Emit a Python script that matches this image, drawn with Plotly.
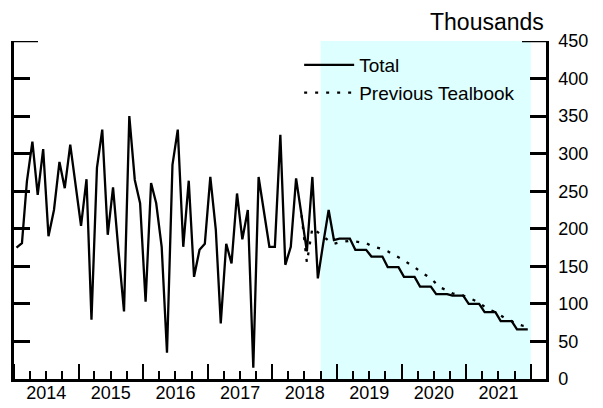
import pandas as pd
import plotly.graph_objects as go

# Monthly dates, Jan 2014 .. Dec 2021 (plotted mid-month)
months = pd.date_range("2014-01-01", "2021-12-01", freq="MS") + pd.Timedelta(days=14)

total = [
    175, 181, 263, 316, 245, 306, 190, 225, 289, 254, 312, 258,   # 2014
    204, 266, 79, 281, 332, 192, 255, 170, 90, 350, 265, 234,     # 2015
    103, 261, 234, 176, 35, 285, 332, 176, 264, 136, 172, 180,    # 2016
    269, 199, 74, 180, 154, 247, 186, 225, 15, 269, 221, 176,     # 2017
    176, 325, 152, 176, 267, 218, 170, 269, 134, 180, 225, 185,   # 2018
    187, 187, 187, 172, 172, 172, 163, 163, 163, 149, 149, 149,   # 2019
    136, 136, 136, 123, 123, 123, 113, 113, 113, 111, 111, 111,   # 2020
    100, 100, 100, 89, 89, 89, 77, 77, 77, 66, 66, 66,            # 2021
]

prev_start = 53  # Jun 2018
previous = [
    218, 155, 201, 196, 190, 184, 180,                            # Jun-Dec 2018
    182, 183, 184, 183, 182, 181, 177, 175, 173, 170, 166, 163,   # 2019
    158, 153, 149, 143, 138, 134, 127, 121, 118, 114, 112, 111,   # 2020
    108, 105, 102, 96, 92, 89, 84, 80, 77, 73, 71, 70,            # 2021
]

forecast_start = "2018-10-01"
forecast_end = "2022-01-01"
x_range = ["2014-01-01", "2022-03-28"]
y_ticks = [0, 50, 100, 150, 200, 250, 300, 350, 400, 450]

FONT = "Liberation Sans, Arial, Helvetica, sans-serif"

fig = go.Figure()
fig.add_trace(go.Scatter(
    x=months, y=total, mode="lines", name="Total",
    line=dict(color="black", width=2.3),
))
fig.add_trace(go.Scatter(
    x=months[prev_start:], y=previous, mode="lines", name="Previous Tealbook",
    line=dict(color="black", width=2.3, dash="3px,8px"),
))

fig.add_shape(type="rect", xref="x", yref="y",
              x0=forecast_start, x1=forecast_end, y0=y_ticks[0], y1=y_ticks[-1],
              fillcolor="#DDFFFF", line=dict(width=0), layer="below")
# longer ticks at the top value on both sides
fig.add_shape(type="line", xref="paper", yref="y", xsizemode="pixel", xanchor=0,
              x0=0, x1=24, y0=y_ticks[-1], y1=y_ticks[-1], line=dict(color="black", width=2.5))
fig.add_shape(type="line", xref="paper", yref="y", xsizemode="pixel", xanchor=1,
              x0=-24, x1=0, y0=y_ticks[-1], y1=y_ticks[-1], line=dict(color="black", width=2.5))

fig.add_annotation(text="Thousands", xref="paper", yref="paper", x=1.0, y=1.0,
                   xanchor="right", yanchor="bottom", yshift=4, xshift=0, showarrow=False,
                   font=dict(family=FONT, size=23, color="black"))

# the page body has an 8px default margin, so the figure is sized to fit the 603x408 window
fig.update_layout(
    width=595, height=400,
    margin=dict(l=6, r=57, t=33, b=29, autoexpand=False),
    paper_bgcolor="white", plot_bgcolor="white",
    font=dict(family=FONT, size=18, color="black"),
    showlegend=True,
    legend=dict(x=0.536, y=0.985, xanchor="left", yanchor="top",
                bgcolor="rgba(0,0,0,0)", font=dict(size=19), itemwidth=50,
                tracegroupgap=0),
    xaxis=dict(
        type="date", range=x_range, showgrid=False, zeroline=False, automargin=False,
        showline=True, linecolor="black", linewidth=2.5,
        ticks="inside", ticklen=15, tickwidth=2, tickcolor="black",
        dtick="M12", tick0="2014-01-01", tickformat="%Y", ticklabelmode="period",
        minor=dict(dtick="M3", tick0="2014-01-01", ticks="inside", ticklen=8,
                   tickwidth=2, tickcolor="black", showgrid=False),
        tickfont=dict(size=18), ticklabelstandoff=-4,
    ),
    yaxis=dict(
        range=[0, 450], side="right", tickvals=y_ticks, showgrid=False, zeroline=False,
        automargin=False,
        showline=True, linecolor="black", linewidth=2.5, mirror="ticks",
        ticks="inside", ticklen=16, tickwidth=2.5, tickcolor="black",
        tickfont=dict(size=18), ticklabelstandoff=6,
    ),
)

fig.write_html("out.html")
